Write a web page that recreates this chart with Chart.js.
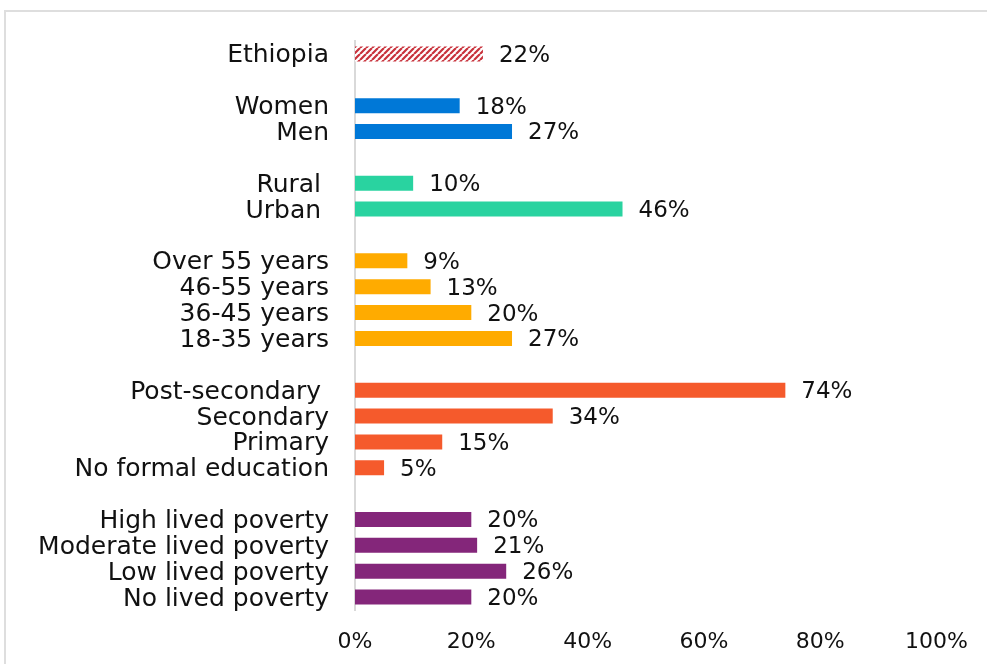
<!DOCTYPE html>
<html>
<head>
<meta charset="utf-8">
<script src="https://cdn.jsdelivr.net/npm/chart.js@4/dist/chart.umd.min.js"></script>
<style>
  html, body { margin: 0; padding: 0; background: #fff; }
  #marco {
    position: absolute; left: 4px; top: 10px; width: 983px; height: 654px;
    border-top: 2px solid #dedede; border-left: 2px solid #dedede;
  }
  #lienzo { position: absolute; left: 0; top: 0; }
</style>
</head>
<body>
<div id="marco"></div>
<div id="lienzo" style="width:987px;height:664px"><canvas id="grafica"></canvas></div>
<script>
// Filas de la gráfica; las cadenas vacías son separadores entre grupos
const categorias = [
  "Ethiopia", "",
  "Women", "Men", "",
  "Rural ", "Urban ", "",
  "Over 55 years", "46-55 years", "36-45 years", "18-35 years", "",
  "Post-secondary ", "Secondary", "Primary", "No formal education", "",
  "High lived poverty", "Moderate lived poverty", "Low lived poverty", "No lived poverty"
];
// Porcentaje de cada fila (null en los separadores)
const valores = [
  22, null,
  18, 27, null,
  10, 46, null,
  9, 13, 20, 27, null,
  74, 34, 15, 5, null,
  20, 21, 26, 20
];
// Grupo al que pertenece cada fila
const grupos = [
  "pais", null,
  "sexo", "sexo", null,
  "zona", "zona", null,
  "edad", "edad", "edad", "edad", null,
  "educacion", "educacion", "educacion", "educacion", null,
  "pobreza", "pobreza", "pobreza", "pobreza"
];
const ticksEjeX = [0, 20, 40, 60, 80, 100];

// Trama rayada para la barra del total nacional
function crearTrama() {
  const c = document.createElement("canvas");
  c.width = 6; c.height = 6;
  const ctx = c.getContext("2d");
  ctx.fillStyle = "#ffffff";
  ctx.fillRect(0, 0, 6, 6);
  ctx.strokeStyle = "#c8323c";
  ctx.lineWidth = 2.2;
  ctx.beginPath();
  for (let k = -6; k <= 12; k += 6) {
    ctx.moveTo(k, 6);
    ctx.lineTo(k + 6, 0);
  }
  ctx.stroke();
  return ctx.createPattern(c, "repeat");
}

const coloresGrupo = {
  pais: crearTrama(),
  sexo: "#0078d7",
  zona: "#29d3a0",
  edad: "#ffab00",
  educacion: "#f55a2c",
  pobreza: "#84267a"
};

const fuente = "'DejaVu Sans', sans-serif";

// Escribe el porcentaje a la derecha de cada barra
const etiquetasValor = {
  id: "etiquetasValor",
  afterDatasetsDraw(chart) {
    const ctx = chart.ctx;
    const meta = chart.getDatasetMeta(0);
    ctx.save();
    ctx.font = "23px " + fuente;
    ctx.fillStyle = "#111111";
    ctx.textAlign = "left";
    ctx.textBaseline = "middle";
    meta.data.forEach((barra, i) => {
      if (valores[i] === null) return;
      ctx.fillText(valores[i] + "%", barra.x + 16, barra.y + 2);
    });
    ctx.restore();
  }
};

Chart.defaults.font.family = fuente;
Chart.defaults.color = "#111111";

new Chart(document.querySelector("#grafica"), {
  type: "bar",
  data: {
    labels: categorias,
    datasets: [{
      data: valores,
      backgroundColor: grupos.map(g => g ? coloresGrupo[g] : "transparent"),
      barPercentage: 0.58,
      categoryPercentage: 1
    }]
  },
  options: {
    indexAxis: "y",
    responsive: true,
    maintainAspectRatio: false,
    animation: false,
    layout: { padding: { top: 41, right: 45, bottom: 0, left: 0 } },
    plugins: { legend: { display: false }, tooltip: { enabled: false } },
    scales: {
      x: {
        min: 0, max: 100,
        afterBuildTicks(scale) { scale.ticks = ticksEjeX.map(v => ({ value: v })); },
        afterFit(scale) { scale.height = 54; },
        grid: { display: false, drawTicks: false },
        border: { display: false },
        ticks: { font: { size: 22 }, padding: 19, callback: v => v + "%" }
      },
      y: {
        afterFit(scale) { scale.width = 355; },
        grid: { display: false, drawTicks: false },
        border: { display: true, color: "#d9d9d9", width: 2 },
        ticks: { font: { size: 25 }, padding: 26, labelOffset: 2, autoSkip: false }
      }
    }
  },
  plugins: [etiquetasValor]
});
</script>
</body>
</html>
